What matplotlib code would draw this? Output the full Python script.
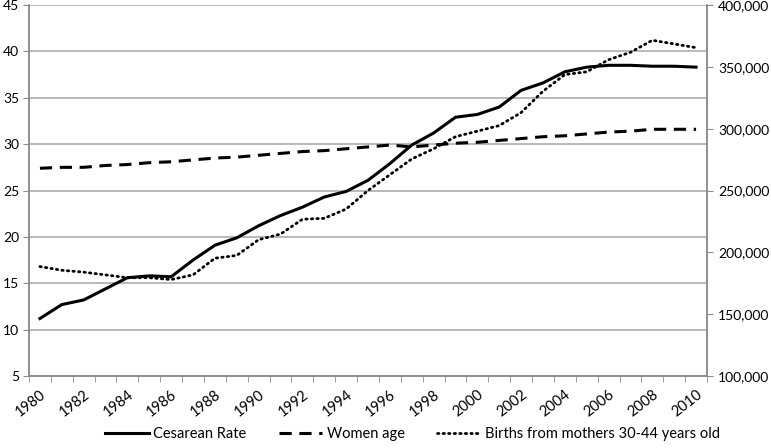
import matplotlib.pyplot as plt
from matplotlib.ticker import FuncFormatter, MultipleLocator

years = list(range(1980, 2011))
cesarean_rate = [11.2, 12.7, 13.2, 14.4, 15.6, 15.8, 15.7, 17.5, 19.1, 19.9,
                 21.2, 22.3, 23.2, 24.3, 24.9, 26.1, 27.9, 29.9, 31.2, 32.9,
                 33.2, 34.0, 35.8, 36.6, 37.8, 38.3, 38.5, 38.5, 38.4, 38.4, 38.3]
women_age = [27.4, 27.5, 27.5, 27.7, 27.8, 28.0, 28.1, 28.3, 28.5, 28.6,
             28.8, 29.0, 29.2, 29.3, 29.5, 29.7, 29.9, 29.7, 29.9, 30.1,
             30.2, 30.4, 30.6, 30.8, 30.9, 31.1, 31.3, 31.4, 31.6, 31.6, 31.6]
births_30_44 = [188500, 185500, 184000, 181750, 179500, 179500, 178000, 181750, 195250, 197500,
                210250, 214750, 226750, 227500, 235000, 250000, 262750, 275500, 283750, 293500,
                298000, 302500, 313000, 330250, 343750, 346000, 355750, 361750, 371500, 368500, 365500]

plt.rcParams['font.family'] = ['Lato', 'DejaVu Sans']
grey = '#8c8c8c'

fig = plt.figure(figsize=(7.71, 4.48), dpi=100)
ax = fig.add_axes([0.0376, 0.1607, 0.8794, 0.8281])
ax2 = ax.twinx()

l1, = ax.plot(years, cesarean_rate, color='black', lw=2.2, ls='-', label='Cesarean Rate')
l2, = ax.plot(years, women_age, color='black', lw=2.2, ls=(0, (4, 2.5)), label='Women age')
l3, = ax2.plot(years, births_30_44, color='black', lw=2.0, ls=(0, (0.5, 1.5)),
               dash_capstyle='round', label='Births from mothers 30-44 years old')

ax.set_ylim(5, 45)
ax.yaxis.set_major_locator(MultipleLocator(5))
ax2.set_ylim(100000, 400000)
ax2.yaxis.set_major_locator(MultipleLocator(50000))
ax2.yaxis.set_major_formatter(FuncFormatter(lambda v, p: f'{v:,.0f}'))

ax.set_xlim(1979.5, 2010.5)
ax.set_xticks(years[::2])
ax.set_xticklabels([str(y) for y in years[::2]], rotation=38, ha='right',
                   rotation_mode='anchor')
ax.set_xticks([y - 0.5 for y in years] + [2010.5], minor=True)
ax.tick_params(axis='x', which='major', length=0, pad=8, labelsize=10.5)
ax.tick_params(axis='x', which='minor', length=4, color=grey, direction='out')
ax.tick_params(axis='y', length=4, color=grey, pad=3, labelsize=10)
ax2.tick_params(axis='y', length=4, color=grey, pad=4, labelsize=10)

ax.grid(axis='y', color='#a6a6a6', lw=1.1)
ax.set_axisbelow(True)
for a in (ax, ax2):
    a.spines['top'].set_visible(False)
    for s in ('left', 'right', 'bottom'):
        a.spines[s].set_color(grey)
        a.spines[s].set_linewidth(1.1)

fig.legend(handles=[l1, l2, l3], loc='lower center', bbox_to_anchor=(0.535, -0.005),
           ncol=3, frameon=False, fontsize=10.5, handlelength=3.0, columnspacing=2.2,
           handletextpad=0.3, borderaxespad=0.2)

fig.savefig('out.png', dpi=100)
